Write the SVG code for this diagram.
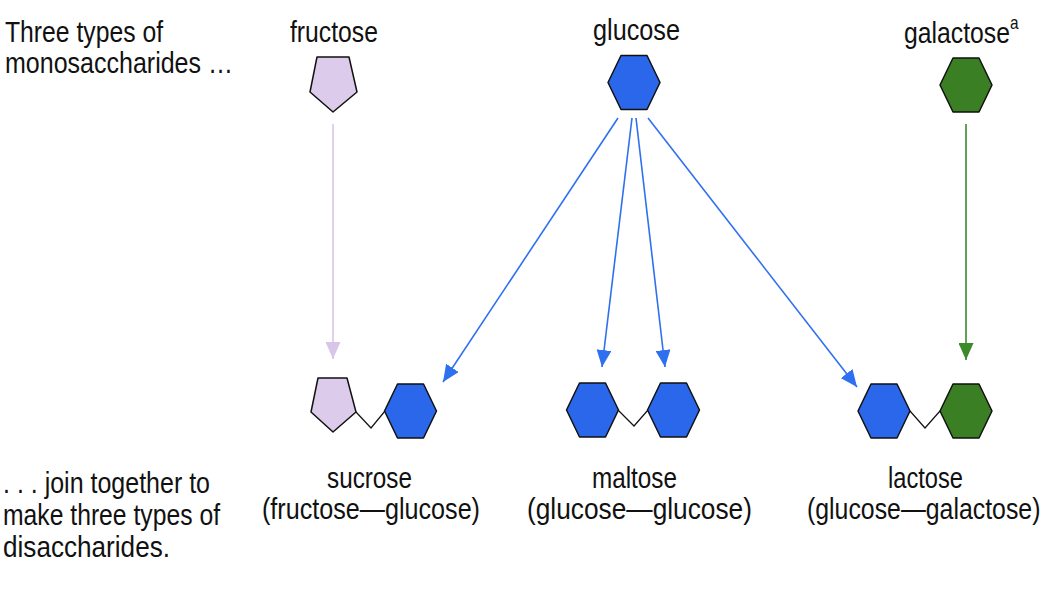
<svg xmlns="http://www.w3.org/2000/svg" xmlns:xlink="http://www.w3.org/1999/xlink" width="1056" height="594" viewBox="0 0 1056 594">
<style>
text{font-family:"Liberation Sans",Arial,sans-serif;font-size:29px;fill:#111}
.hexb{fill:#2b67ea;stroke:#111;stroke-width:1.5;stroke-linejoin:round}
.hexg{fill:#3a7f24;stroke:#111;stroke-width:1.5;stroke-linejoin:round}
.pent{fill:#dccbeb;stroke:#111;stroke-width:1.5;stroke-linejoin:round}
.link{fill:none;stroke:#111;stroke-width:1.2}
.ab{stroke:#2f70f0;stroke-width:1.6;fill:none}
.ag{stroke:#3b8a2a;stroke-width:1.6;fill:none}
.ap{stroke:#d8c6ea;stroke-width:1.6;fill:none}
</style>
<defs>
<polygon id="hex" points="-26,0 -13,-27 13,-27 26,0 13,27 -13,27"/>
<marker id="mb" markerUnits="userSpaceOnUse" markerWidth="17" markerHeight="15" refX="17" refY="7.5" orient="auto"><path d="M0,0 L17,7.5 L0,15 z" fill="#2f70f0"/></marker>
<marker id="mg" markerUnits="userSpaceOnUse" markerWidth="17" markerHeight="15" refX="17" refY="7.5" orient="auto"><path d="M0,0 L17,7.5 L0,15 z" fill="#3b8a2a"/></marker>
<marker id="mp" markerUnits="userSpaceOnUse" markerWidth="17" markerHeight="15" refX="17" refY="7.5" orient="auto"><path d="M0,0 L17,7.5 L0,15 z" fill="#d8c6ea"/></marker>
</defs>
<rect width="1056" height="594" fill="#fff"/>

<g id="caption-top">
<text x="5" y="42" textLength="158" lengthAdjust="spacingAndGlyphs">Three types of</text>
<text x="5" y="73" textLength="228" lengthAdjust="spacingAndGlyphs">monosaccharides …</text>
</g>
<g id="caption-bottom">
<text x="3" y="493" textLength="207" lengthAdjust="spacingAndGlyphs">. . . join together to</text>
<text x="3" y="525" textLength="217" lengthAdjust="spacingAndGlyphs">make three types of</text>
<text x="3" y="557" textLength="167" lengthAdjust="spacingAndGlyphs">disaccharides.</text>
</g>

<g id="connectors">
<line class="ap" x1="333" y1="124" x2="333" y2="359" marker-end="url(#mp)"/>
<line class="ab" x1="618" y1="118" x2="443" y2="382" marker-end="url(#mb)"/>
<line class="ab" x1="632" y1="118" x2="602" y2="367" marker-end="url(#mb)"/>
<line class="ab" x1="636" y1="118" x2="665" y2="367" marker-end="url(#mb)"/>
<line class="ab" x1="648" y1="118" x2="857" y2="387" marker-end="url(#mb)"/>
<line class="ag" x1="966" y1="124" x2="966" y2="360" marker-end="url(#mg)"/>
</g>

<g id="fructose">
<text x="290" y="42" textLength="88" lengthAdjust="spacingAndGlyphs">fructose</text>
<polygon class="pent" points="317,57 349,57 357,92 333,112 310,92"/>
</g>
<g id="glucose">
<text x="593" y="40" textLength="87" lengthAdjust="spacingAndGlyphs">glucose</text>
<use xlink:href="#hex" class="hexb" transform="translate(634,82.5)"/>
</g>
<g id="galactose">
<text transform="translate(904,43) scale(0.854,1)" x="0" y="0">galactose<tspan dy="-14" style="font-size:18px">a</tspan></text>
<use xlink:href="#hex" class="hexg" transform="translate(966,85)"/>
</g>

<g id="sucrose">
<polygon class="pent" points="318,378 347,378 356,412 333,432 311,412"/>
<polyline class="link" points="356,412 371,428 385,411"/>
<use xlink:href="#hex" class="hexb" transform="translate(410.5,411)"/>
<text x="327" y="488" textLength="85" lengthAdjust="spacingAndGlyphs">sucrose</text>
<text x="262" y="519" textLength="218" lengthAdjust="spacingAndGlyphs">(fructose—glucose)</text>
</g>
<g id="maltose">
<use xlink:href="#hex" class="hexb" transform="translate(592.5,410)"/>
<polyline class="link" points="618,410 634,426 648,410"/>
<use xlink:href="#hex" class="hexb" transform="translate(673.5,410)"/>
<text x="592" y="488" textLength="85" lengthAdjust="spacingAndGlyphs">maltose</text>
<text x="527" y="519" textLength="225" lengthAdjust="spacingAndGlyphs">(glucose—glucose)</text>
</g>
<g id="lactose">
<use xlink:href="#hex" class="hexb" transform="translate(884,411)"/>
<polyline class="link" points="910,411 925,428 940,411"/>
<use xlink:href="#hex" class="hexg" transform="translate(966,411)"/>
<text x="888" y="488" textLength="75" lengthAdjust="spacingAndGlyphs">lactose</text>
<text transform="translate(807,519) scale(0.857,1)" x="0" y="0">(glucose—galactose)</text>
</g>
</svg>
